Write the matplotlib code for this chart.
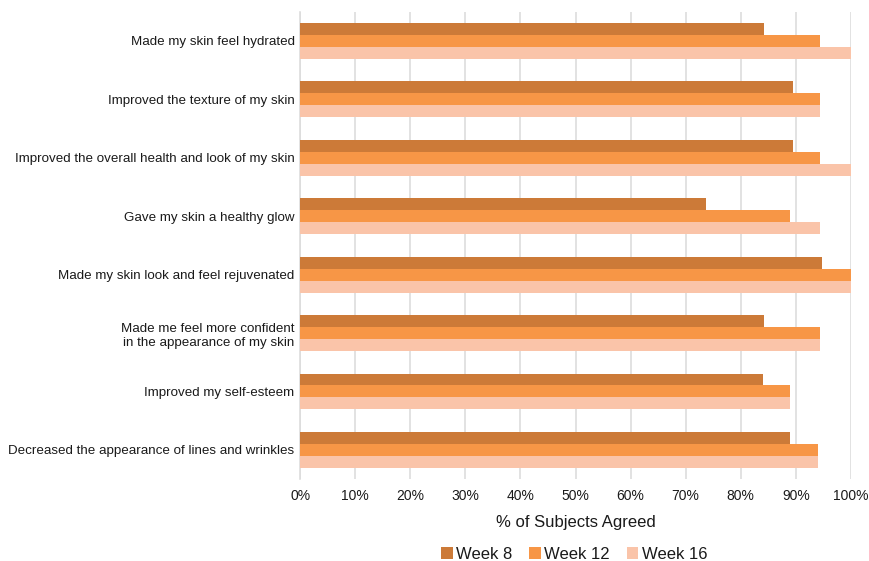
import matplotlib
matplotlib.use("Agg")
import matplotlib.pyplot as plt
import numpy as np
from matplotlib.ticker import PercentFormatter

plt.rcParams['font.family'] = ['Liberation Sans', 'DejaVu Sans']

categories = [
    "Made my skin feel hydrated",
    "Improved the texture of my skin",
    "Improved the overall health and look of my skin",
    "Gave my skin a healthy glow",
    "Made my skin look and feel rejuvenated",
    "Made me feel more confident\nin the appearance of my skin",
    "Improved my self-esteem",
    "Decreased the appearance of lines and wrinkles",
]
week8 = [84.2, 89.5, 89.5, 73.7, 94.7, 84.2, 84.0, 89.0]
week12 = [94.4, 94.4, 94.4, 88.9, 100.0, 94.4, 88.9, 94.0]
week16 = [100.0, 94.4, 100.0, 94.4, 100.0, 94.4, 88.9, 94.0]
series_names = ["Week 8", "Week 12", "Week 16"]
colors = ["#CC7A38", "#F79646", "#FAC4A9"]

fig = plt.figure(figsize=(8.7, 5.61), dpi=100)
ax = fig.add_axes([0.345, 0.146, 0.633, 0.833])

y = np.arange(len(categories))
h = 0.205
for i, (vals, name, c) in enumerate(zip([week8, week12, week16], series_names, colors)):
    ax.barh(y + (i - 1) * h, vals, height=h, color=c, label=name, zorder=3)

ax.set_ylim(len(categories) - 0.5, -0.5)
ax.set_xlim(0, 100)
ax.set_xticks(np.arange(0, 101, 10))
ax.xaxis.set_major_formatter(PercentFormatter(decimals=0))
ax.set_yticks(y)
ax.set_yticklabels(categories, fontsize=9.6, color="#1a1a1a", linespacing=1.25)
ax.tick_params(axis='x', labelsize=10, colors="#1a1a1a", length=0, pad=7)
ax.tick_params(axis='y', length=0, pad=4)
ax.grid(axis='x', color="#DDDDDD", linewidth=1.2, zorder=0)
for s in ['top', 'right', 'bottom']:
    ax.spines[s].set_visible(False)
ax.spines['left'].set_color("#DDDDDD")
ax.spines['left'].set_linewidth(1.2)
ax.set_xlabel("% of Subjects Agreed", fontsize=12, color="#1a1a1a", labelpad=9)

leg = fig.legend(loc='lower center', bbox_to_anchor=(0.66, -0.028), ncol=3, frameon=False,
                 fontsize=12, handlelength=0.7, handleheight=0.7, handletextpad=0.2,
                 columnspacing=1.0, labelcolor="#1a1a1a")

fig.savefig("out.png", dpi=100)
